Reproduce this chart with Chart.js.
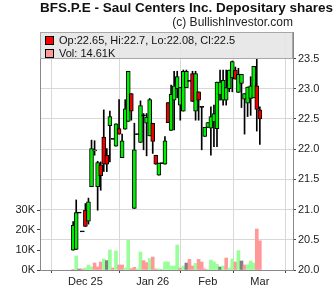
<!DOCTYPE html>
<html>
<head>
<meta charset="utf-8">
<script src="https://cdn.jsdelivr.net/npm/chart.js@4/dist/chart.umd.min.js"></script>
<style>
body { margin: 0; background: #fff; font-family: "Liberation Sans", Arial, sans-serif; }
#wrap { position: relative; width: 333px; height: 301px; overflow: hidden; }
#title { position: absolute; left: 40px; top: 0px; font-weight: bold; font-size: 13.5px; white-space: nowrap; color: #111; z-index: 2; }
#sub { position: absolute; right: 40px; top: 15px; font-size: 12px; color: #222; white-space: nowrap; z-index: 2; }
#legend { position: absolute; left: 40px; top: 32px; width: 251px; height: 25px; background: rgba(229,229,229,0.88); border: 1px solid #a8a8a8; font-size: 11px; color: #111; z-index: 2; }
#legend .row { position: absolute; left: 4px; height: 12px; line-height: 12px; white-space: nowrap; }
#legend .box { display: inline-block; width: 7px; height: 7px; border: 1px solid #000; margin-right: 5px; vertical-align: -1px; }
canvas { position: absolute; left: 0; top: 0; z-index: 1; }
</style>
</head>
<body>
<div id="wrap">
  <div id="title">BFS.P.E - Saul Centers Inc. Depositary shares S</div>
  <div id="sub">(c) BullishInvestor.com</div>
  <div id="legend">
    <div class="row" style="top:1px"><span class="box" style="background:#ff0000"></span><span id="ohlc"></span></div>
    <div class="row" style="top:14px"><span class="box" style="background:#ff9999"></span><span id="vol"></span></div>
  </div>
  <canvas id="chart" width="333" height="301"></canvas>
</div>
<script>
// daily candles, late Nov 2025 .. Mar 2 2026
const opens  = [20.33,20.34,20.95,20.64,20.99,20.81,21.38,21.97,21.38,21.74,22.20,21.90,22.39,22.17,22.05,22.34,21.86,22.33,22.46,22.92,
                21.02,22.25,22.11,22.56,22.43,22.22,22.43,21.90,21.57,21.77,21.75,22.77,22.31,22.81,23.00,22.73,22.63,23.02,23.13,23.25,
                22.63,22.95,22.70,22.21,22.36,22.35,22.45,22.34,22.90,22.81,22.81,23.00,23.18,23.31,22.94,23.09,22.83,22.76,22.84,22.85,
                23.05,22.65];
const highs  = [20.80,21.16,20.95,20.64,21.10,21.19,22.15,22.14,21.80,21.79,22.65,22.01,22.63,22.17,22.42,22.82,22.25,22.82,23.29,22.92,
                22.43,22.25,22.80,22.59,22.59,22.84,22.43,21.90,21.77,21.77,22.21,22.77,23.06,23.29,23.29,23.02,23.31,23.31,23.13,23.29,
                23.29,22.95,22.70,22.36,22.44,22.70,22.73,23.11,23.31,23.31,23.31,23.31,23.46,23.36,23.34,23.24,22.92,23.03,23.20,23.37,
                23.49,22.70];
const lows   = [20.33,20.34,20.95,20.64,20.72,20.76,21.38,21.90,20.99,21.32,21.63,21.63,21.79,22.17,22.05,22.25,21.86,22.33,22.46,22.48,
                21.02,22.25,22.11,21.99,21.89,22.22,21.93,21.75,21.57,21.77,21.75,22.44,22.31,22.32,22.85,22.48,22.63,23.02,23.13,22.79,
                22.48,22.48,21.99,22.21,22.36,21.90,22.04,22.04,22.81,22.73,22.73,22.95,22.95,23.16,22.94,22.69,22.25,22.54,22.56,22.85,
                22.30,22.08];
const closes = [20.74,20.95,20.95,20.64,20.72,21.13,22.01,21.99,21.78,21.56,21.75,21.75,22.54,22.17,22.42,22.25,22.14,22.67,23.29,22.63,
                21.99,22.25,22.72,22.56,22.53,22.82,22.13,21.75,21.77,21.77,22.14,22.44,22.91,23.05,23.20,23.02,23.29,23.29,23.13,22.79,
                23.25,22.81,22.70,22.36,22.44,22.54,22.59,23.11,23.11,23.14,23.02,23.31,23.45,23.16,23.24,23.24,22.92,23.03,23.05,23.37,
                22.66,22.50];
// volume in thousands of shares
const volumes = [0.3,7,0.5,0.5,1,2.5,1.5,3.5,1.5,4,5.5,4.7,10,1,9.5,2.5,2.5,1,15,0.7,
                 1.3,0.5,9,4.7,3.7,5.7,6.5,0.5,0.5,0,4,4,2,2,12.5,1,2,3.5,5.3,2,
                 3.3,5.3,4,0.5,0.3,5,4,2.8,1.5,2,6,1,5.5,4,9.7,4.5,2.5,2.5,4.5,3.5,
                 20.5,14.61];

const monthTicks  = [4, 26, 44, 61];
const monthLabels = ['Dec 25', 'Jan 26', 'Feb', 'Mar'];
const priceTicks  = [20, 20.5, 21, 21.5, 22, 22.5, 23, 23.5];
const volTicks    = [0, 10, 20, 30];

const last = closes.length - 1;
document.getElementById('ohlc').textContent =
  'Op:' + opens[last] + ', Hi:' + highs[last] + ', Lo:' + lows[last] + ', Cl:' + closes[last];
document.getElementById('vol').textContent = 'Vol: ' + volumes[last].toFixed(2) + 'K';

const bodies = opens.map((o, i) => ({
  x: i,
  y: o === closes[i] ? [o - 0.008, o + 0.008] : [o, closes[i]]
}));
const bodyColors = opens.map((o, i) => closes[i] > o ? '#00ee00' : closes[i] < o ? '#ee0000' : '#000');
const wicks = lows.map((l, i) => ({ x: i, y: [l, highs[i]] }));
const volData = volumes.map((v, i) => ({ x: i, y: v }));
const volColors = closes.map((c, i) => {
  if (i === 0) return '#ff9999';
  if (c > closes[i - 1]) return '#99ff99';
  if (c < closes[i - 1]) return '#ff9999';
  return '#808080';
});

Chart.defaults.font.family = '"Liberation Sans", Arial, sans-serif';
Chart.defaults.font.size = 11;
Chart.defaults.color = '#222';

new Chart(document.getElementById('chart'), {
  type: 'bar',
  data: {
    datasets: [
      {
        label: 'body', data: bodies, yAxisID: 'y', order: 1, grouped: false,
        backgroundColor: bodyColors, borderColor: '#000', borderWidth: 1,
        borderSkipped: false, barThickness: 4
      },
      {
        label: 'wick', data: wicks, yAxisID: 'y', order: 2, grouped: false,
        backgroundColor: '#000', borderWidth: 0, barThickness: 1
      },
      {
        label: 'volume', data: volData, yAxisID: 'vol', order: 3, grouped: false,
        backgroundColor: volColors, borderWidth: 0, barThickness: 3
      }
    ]
  },
  options: {
    responsive: false,
    animation: false,
    layout: { padding: { top: 32, left: 0, right: 0, bottom: 0 } },
    plugins: { legend: { display: false }, tooltip: { enabled: false } },
    scales: {
      x: {
        type: 'linear', min: -0.5, max: last + 0.5,
        afterBuildTicks: s => { s.ticks = monthTicks.map(v => ({ value: v })); },
        afterFit: s => { s.height = 31; },
        ticks: {
          autoSkip: false, maxRotation: 0, padding: 2,
          callback: v => monthLabels[monthTicks.indexOf(v)]
        },
        grid: { color: '#d8d8d8', tickLength: 3, tickColor: '#444' },
        border: { color: '#888' }
      },
      y: {
        position: 'right', min: 20, max: 23.94,
        afterBuildTicks: s => { s.ticks = priceTicks.map(v => ({ value: v })); },
        afterFit: s => { s.width = 40; },
        ticks: { padding: 2, callback: v => v.toFixed(1) },
        grid: { color: '#d8d8d8', tickLength: 3, tickColor: '#444' },
        border: { color: '#888' }
      },
      vol: {
        position: 'left', min: 0, max: 119,
        afterBuildTicks: s => { s.ticks = volTicks.map(v => ({ value: v })); },
        afterFit: s => { s.width = 40; },
        ticks: { padding: 2, callback: v => v + 'K' },
        grid: { drawOnChartArea: false, tickLength: 3, tickColor: '#444' },
        border: { color: '#888' }
      }
    }
  }
});
</script>
</body>
</html>
